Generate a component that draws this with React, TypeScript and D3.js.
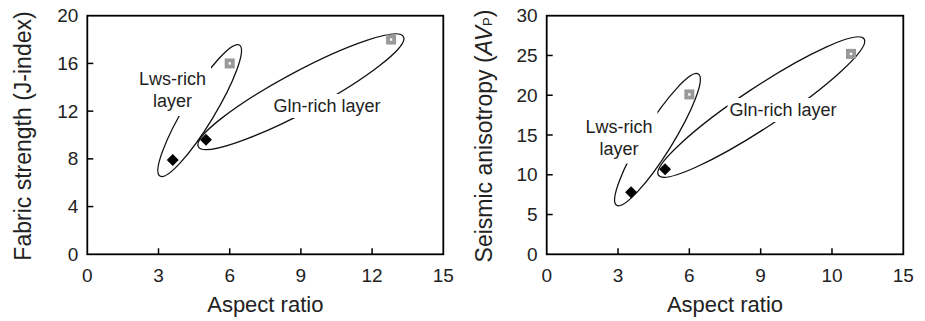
import React, { useEffect, useRef } from 'react';
import * as d3 from 'd3';

// Shared x axis (aspect ratio)
const xTicks = [0, 3, 6, 9, 12, 15];
const xTickLabelsLeft = ['0', '3', '6', '9', '12', '15'];
const xTickLabelsRight = ['0', '3', '6', '9', '10', '15']; // as printed in the original

const layers = ['Lws-rich layer', 'Gln-rich layer'];

// Left panel: fabric strength (J-index)
const jTicks = [0, 4, 8, 12, 16, 20];
const diamondAspectLeft = [3.6, 5.0];
const diamondJ = [7.9, 9.6];
const squareAspectLeft = [6.0, 12.8];
const squareJ = [16.0, 18.0];

// Right panel: seismic anisotropy (AVp)
const avTicks = [0, 5, 10, 15, 20, 25, 30];
const diamondAspectRight = [3.55, 4.98];
const diamondAV = [7.8, 10.7];
const squareAspectRight = [6.0, 12.8];
const squareAV = [20.1, 25.2];

// Ellipse outlines: major-axis ends in data units [x1, y1, x2, y2]
const ellipseEndsLeft = [
  [3.06, 6.56, 6.41, 17.54],
  [4.68, 9.02, 13.32, 18.24],
];
const ellipseEndsRight = [
  [2.94, 6.17, 6.38, 22.67],
  [4.7, 9.95, 13.35, 27.08],
];
const ellipseHalfWidth = [15, 20];

const FONT = "'Liberation Sans', Arial, sans-serif";

type PanelCfg = {
  left: number;
  right: number;
  yMax: number;
  yTicks: number[];
  xLabels: string[];
  diamonds: number[][];
  squares: number[][];
  ellipses: number[][];
  labelPos: { x: number; y: number }[]; // label anchor in pixels (annotation placement)
  yTitleX: number;
  rightTitle: boolean;
};

const drawPanel = (svg: any, cfg: PanelCfg) => {
  const top = 15.7;
  const bottom = 254.3;
  const x = d3.scaleLinear().domain([0, 15]).range([cfg.left, cfg.right]);
  const y = d3.scaleLinear().domain([0, cfg.yMax]).range([bottom, top]);
  const g = svg.append('g');

  // ellipses
  cfg.ellipses.forEach((e, i) => {
    const x1 = x(e[0]), y1 = y(e[1]), x2 = x(e[2]), y2 = y(e[3]);
    const cx = (x1 + x2) / 2, cy = (y1 + y2) / 2;
    const a = Math.hypot(x2 - x1, y2 - y1) / 2;
    const ang = (Math.atan2(y2 - y1, x2 - x1) * 180) / Math.PI;
    g.append('ellipse')
      .attr('cx', cx).attr('cy', cy)
      .attr('rx', a).attr('ry', ellipseHalfWidth[i])
      .attr('transform', `rotate(${ang},${cx},${cy})`)
      .attr('fill', 'none').attr('stroke', '#111').attr('stroke-width', 1.3);
  });

  // labels with white backing to break the outline
  const labelLines = [['Lws-rich', 'layer'], [layers[1]]];
  labelLines.forEach((lines, i) => {
    const lg = g.append('g');
    const bg = lg.append('rect').attr('fill', '#fff');
    lines.forEach((t, j) => {
      lg.append('text')
        .attr('x', cfg.labelPos[i].x)
        .attr('y', cfg.labelPos[i].y + j * 22)
        .attr('text-anchor', 'middle')
        .attr('dominant-baseline', 'central')
        .attr('font-family', FONT).attr('font-size', 18).attr('fill', '#222')
        .text(t);
    });
    const bb = lg.node().getBBox();
    const pad = i === 0 ? 5 : 2;
    bg.attr('x', bb.x - pad).attr('y', bb.y - pad)
      .attr('width', bb.width + 2 * pad).attr('height', bb.height + 2 * pad);
  });

  // markers
  cfg.diamonds.forEach(([a, b]) => {
    g.append('rect')
      .attr('x', -4.2).attr('y', -4.2).attr('width', 8.4).attr('height', 8.4)
      .attr('transform', `translate(${x(a)},${y(b)}) rotate(45)`)
      .attr('fill', '#000');
  });
  cfg.squares.forEach(([a, b]) => {
    g.append('rect')
      .attr('x', x(a) - 5).attr('y', y(b) - 5).attr('width', 10).attr('height', 10)
      .attr('fill', '#999');
    g.append('rect')
      .attr('x', x(a) - 1.2).attr('y', y(b) - 1.2).attr('width', 2.4).attr('height', 2.4)
      .attr('fill', '#fff');
  });

  // frame
  g.append('rect')
    .attr('x', cfg.left).attr('y', top)
    .attr('width', cfg.right - cfg.left).attr('height', bottom - top)
    .attr('fill', 'none').attr('stroke', '#000').attr('stroke-width', 1.8);

  // x axis ticks (inward)
  xTicks.forEach((t, i) => {
    if (i > 0 && i < xTicks.length - 1) {
      g.append('line')
        .attr('x1', x(t)).attr('x2', x(t)).attr('y1', bottom).attr('y2', bottom - 6)
        .attr('stroke', '#000').attr('stroke-width', 1.5);
    }
    g.append('text')
      .attr('x', x(t)).attr('y', 282)
      .attr('text-anchor', 'middle')
      .attr('font-family', FONT).attr('font-size', 19).attr('fill', '#222')
      .text(cfg.xLabels[i]);
  });

  // y axis ticks (inward)
  cfg.yTicks.forEach((t, i) => {
    if (i > 0 && i < cfg.yTicks.length - 1) {
      g.append('line')
        .attr('x1', cfg.left).attr('x2', cfg.left + 6).attr('y1', y(t)).attr('y2', y(t))
        .attr('stroke', '#000').attr('stroke-width', 1.5);
    }
    g.append('text')
      .attr('x', cfg.left - 9).attr('y', y(t))
      .attr('text-anchor', 'end').attr('dominant-baseline', 'central')
      .attr('font-family', FONT).attr('font-size', 19).attr('fill', '#222')
      .text(t);
  });

  // axis titles
  g.append('text')
    .attr('x', (cfg.left + cfg.right) / 2).attr('y', 312)
    .attr('text-anchor', 'middle')
    .attr('font-family', FONT).attr('font-size', 22).attr('fill', '#222')
    .text('Aspect ratio');

  const yt = g.append('text')
    .attr('transform', `translate(${cfg.yTitleX},136) rotate(-90)`)
    .attr('text-anchor', 'middle').attr('dominant-baseline', 'central')
    .attr('font-family', FONT).attr('font-size', 23).attr('fill', '#222');
  if (!cfg.rightTitle) {
    yt.text('Fabric strength (J-index)');
  } else {
    yt.append('tspan').text('Seismic anisotropy (');
    yt.append('tspan').attr('font-style', 'italic').text('AV');
    yt.append('tspan').attr('font-size', 13).attr('dy', 3).text('P');
    yt.append('tspan').attr('dy', -3).text(')');
  }
};

const App = () => {
  const svgRef = useRef<SVGSVGElement>(null);

  useEffect(() => {
    const svg = d3.select(svgRef.current);
    svg.selectAll('*').remove();

    drawPanel(svg, {
      left: 87.3,
      right: 443.3,
      yMax: 20,
      yTicks: jTicks,
      xLabels: xTickLabelsLeft,
      diamonds: diamondAspectLeft.map((a, i) => [a, diamondJ[i]]),
      squares: squareAspectLeft.map((a, i) => [a, squareJ[i]]),
      ellipses: ellipseEndsLeft,
      labelPos: [{ x: 172.5, y: 79 }, { x: 327, y: 106 }],
      yTitleX: 23,
      rightTitle: false,
    });

    drawPanel(svg, {
      left: 546.7,
      right: 903.3,
      yMax: 30,
      yTicks: avTicks,
      xLabels: xTickLabelsRight,
      diamonds: diamondAspectRight.map((a, i) => [a, diamondAV[i]]),
      squares: squareAspectRight.map((a, i) => [a, squareAV[i]]),
      ellipses: ellipseEndsRight,
      labelPos: [{ x: 619, y: 126.5 }, { x: 783, y: 110 }],
      yTitleX: 484,
      rightTitle: true,
    });
  }, []);

  return (
    <div style={{ position: 'absolute', left: 0, top: 0, background: '#fff' }}>
      <svg ref={svgRef} width={925} height={321} style={{ display: 'block' }}></svg>
    </div>
  );
};

export default App;
